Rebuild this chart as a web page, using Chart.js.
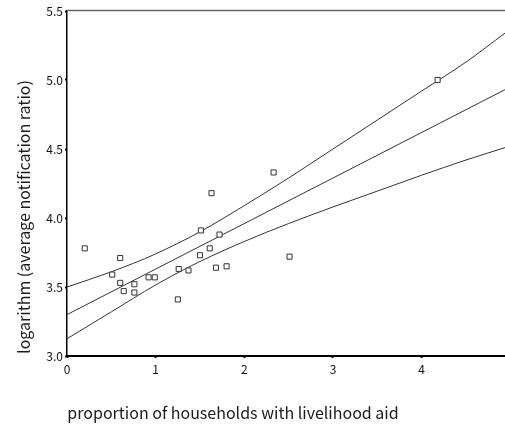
<!DOCTYPE html>
<html>
<head>
<meta charset="utf-8">
<script src="https://cdn.jsdelivr.net/npm/chart.js@4"></script>
<style>
  body { margin: 0; background: #fff; }
  #wrap { width: 505px; height: 426px; }
</style>
</head>
<body>
<div id="wrap"><canvas id="chart" width="505" height="426"></canvas></div>
<script>
// observed points
const aidShare = [0.20, 0.60, 0.51, 0.60, 0.64, 0.76, 0.76, 0.92, 0.99, 1.25, 1.26,
  1.37, 1.50, 1.51, 1.61, 1.63, 1.68, 1.72, 1.80, 2.33, 2.51, 4.18];
const logRatio = [3.78, 3.71, 3.59, 3.53, 3.47, 3.52, 3.46, 3.57, 3.57, 3.41, 3.63,
  3.62, 3.73, 3.91, 3.78, 4.18, 3.64, 3.88, 3.65, 4.33, 3.72, 5.00];

// fitted line and confidence band
const fitX = [0, 4.94];
const fitY = [3.30, 4.93];
const bandX = [0, 0.5, 1, 1.5, 2, 2.5, 3, 3.5, 4, 4.5, 4.94];
const upperY = [3.50, 3.61, 3.74, 3.90, 4.09, 4.29, 4.50, 4.71, 4.92, 5.13, 5.34];
const lowerY = [3.125, 3.32, 3.515, 3.685, 3.83, 3.96, 4.08, 4.195, 4.31, 4.42, 4.51];

const xTitle = "proportion of households with livelihood aid";
const yTitle = "logarithm (average notification ratio)";

const FONT = "'Noto Sans CJK JP', 'DejaVu Sans', sans-serif";
const INK = "#333";

const toXY = (xs, ys) => xs.map((x, i) => ({ x: x, y: ys[i] }));

function lineSet(xs, ys) {
  return {
    data: toXY(xs, ys),
    showLine: true,
    pointRadius: 0,
    borderColor: INK,
    borderWidth: 1,
    cubicInterpolationMode: "monotone",
    fill: false,
  };
}

const frame = {
  id: "frame",
  afterDraw(chart) {
    const { ctx, chartArea } = chart;
    ctx.save();
    // gray top border
    ctx.strokeStyle = "#666";
    ctx.lineWidth = 1.5;
    ctx.beginPath();
    ctx.moveTo(chartArea.left, 10.5);
    ctx.lineTo(505, 10.5);
    ctx.stroke();
    // axis titles
    ctx.fillStyle = "#1a1a1a";
    ctx.font = "16px " + FONT;
    ctx.textAlign = "center";
    ctx.textBaseline = "middle";
    ctx.fillText(xTitle, 233, 413);
    ctx.translate(24, 217);
    ctx.rotate(-Math.PI / 2);
    ctx.fillText(yTitle, 0, 0);
    ctx.restore();
  },
};

new Chart(document.getElementById("chart"), {
  type: "scatter",
  data: {
    datasets: [
      {
        data: toXY(aidShare, logRatio),
        pointStyle: "rect",
        pointRadius: 3.6,
        pointBorderWidth: 1,
        pointBorderColor: INK,
        pointBackgroundColor: "#fff",
      },
      lineSet(fitX, fitY),
      lineSet(bandX, upperY),
      lineSet(bandX, lowerY),
    ],
  },
  options: {
    responsive: false,
    animation: false,
    layout: { autoPadding: false, padding: { top: 11, right: 0, left: 0, bottom: 0 } },
    plugins: { legend: { display: false }, tooltip: { enabled: false } },
    scales: {
      x: {
        type: "linear",
        min: 0,
        max: 4.94,
        afterFit: (s) => { s.height = 70; s.paddingRight = 0; },
        border: { color: "#000", width: 2 },
        grid: { drawOnChartArea: false, color: "#000", tickLength: 2, tickWidth: 2 },
        ticks: {
          stepSize: 1,
          includeBounds: false,
          color: "#111",
          padding: 4,
          font: { family: FONT, size: 12 },
        },
      },
      y: {
        min: 3.0,
        max: 5.5,
        afterFit: (s) => { s.width = 67; },
        border: { color: "#000", width: 1.5 },
        grid: { drawOnChartArea: false, color: "#000", tickLength: 2, tickWidth: 2 },
        ticks: {
          stepSize: 0.5,
          color: "#111",
          padding: 2,
          font: { family: FONT, size: 12 },
          callback: (v) => v.toFixed(1),
        },
      },
    },
  },
  plugins: [frame],
});
</script>
</body>
</html>
